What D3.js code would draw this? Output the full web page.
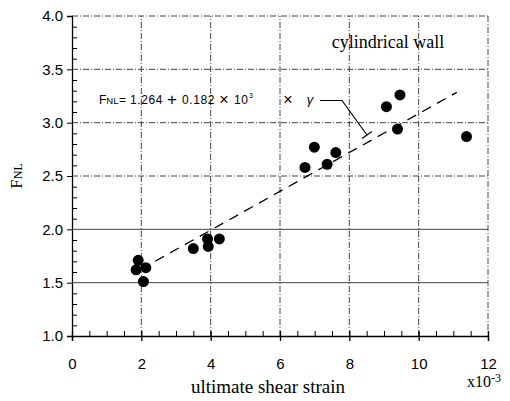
<!DOCTYPE html>
<html><head><meta charset="utf-8">
<script src="https://cdn.jsdelivr.net/npm/d3@7"></script>
<style>body{margin:0;background:#fff}svg{display:block}</style>
</head><body>
<script>
const strainX = [1.91,1.85,2.13,2.06,3.50,3.91,3.93,4.25,6.72,6.99,7.36,7.61,9.07,9.46,9.39,11.38];
const fnlY    = [1.71,1.62,1.64,1.51,1.82,1.91,1.84,1.91,2.58,2.77,2.61,2.72,3.15,3.26,2.94,2.87];
const xTicks = [0,2,4,6,8,10,12];
const yTicks = [1.0,1.5,2.0,2.5,3.0,3.5,4.0];
const fitIntercept = 1.264, fitSlope = 0.182;
const fitRange = [2.4, 11.1];

const W=510,H=401;
const svg=d3.select("body").append("svg").attr("width",W).attr("height",H);
const x=d3.scaleLinear().domain([0,12]).range([72,488]);
const y=d3.scaleLinear().domain([1,4]).range([336,16]);
const sans="Liberation Sans, Arial, sans-serif", serif="Liberation Serif, Times New Roman, serif";
const gridDash="6,2,1,2";

// grid
const g=svg.append("g");
g.selectAll(".vg").data(xTicks.slice(1,-1)).join("line")
 .attr("x1",d=>x(d)).attr("x2",d=>x(d)).attr("y1",y(1)).attr("y2",y(4))
 .attr("stroke","#444").attr("stroke-width",1).attr("stroke-dasharray",gridDash);
g.selectAll(".hg").data(yTicks.slice(1,-1)).join("line")
 .attr("y1",d=>y(d)).attr("y2",d=>y(d)).attr("x1",x(0)).attr("x2",x(12))
 .attr("stroke","#444").attr("stroke-width",1).attr("stroke-dasharray",d=>d<=2?null:gridDash);
// frame top/right
svg.append("line").attr("x1",x(0)).attr("x2",x(12)).attr("y1",y(4)).attr("y2",y(4)).attr("stroke","#444").attr("stroke-dasharray",gridDash);
svg.append("line").attr("x1",x(12)).attr("x2",x(12)).attr("y1",y(4)).attr("y2",y(1)).attr("stroke","#444").attr("stroke-dasharray",gridDash);

// axes
const xa=svg.append("g").attr("transform",`translate(0,${y(1)})`)
 .call(d3.axisBottom(x).tickValues(xTicks).tickSize(5).tickFormat(d=>d));
xa.select(".domain").attr("stroke","#000").attr("stroke-width",1.3);
xa.selectAll(".tick line").attr("y1",-5).attr("y2",5).attr("stroke-width",1.3);
xa.selectAll("text").attr("y",22).attr("font-family",sans).attr("font-size",15).attr("fill","#000");
const xm=svg.append("g").attr("transform",`translate(0,${y(1)})`)
 .call(d3.axisTop(x).tickValues(d3.range(0,12.01,0.5).filter(v=>v%2!==0)).tickSize(5).tickFormat(""));
xm.select(".domain").remove();

const ya=svg.append("g").attr("transform",`translate(${x(0)},0)`)
 .call(d3.axisLeft(y).tickValues(yTicks).tickSize(5).tickFormat(d3.format(".1f")));
ya.select(".domain").attr("stroke","#000").attr("stroke-width",1.3);
ya.selectAll("text").attr("x",-9).attr("font-family",sans).attr("font-size",15).attr("fill","#000");
const ym=svg.append("g").attr("transform",`translate(${x(0)},0)`)
 .call(d3.axisRight(y).tickValues(d3.range(1,4.001,0.1).map(v=>+v.toFixed(1)).filter(v=>Math.abs(v*2-Math.round(v*2))>0.01)).tickSize(5).tickFormat(""));
ym.select(".domain").remove();

// fit line
svg.append("line").attr("x1",x(fitRange[0])).attr("y1",y(fitIntercept+fitSlope*fitRange[0]))
 .attr("x2",x(fitRange[1])).attr("y2",y(fitIntercept+fitSlope*fitRange[1]))
 .attr("stroke","#000").attr("stroke-width",1.3).attr("stroke-dasharray","10,7");

// points
svg.selectAll("circle.p").data(strainX).join("circle")
 .attr("cx",d=>x(d)).attr("cy",(d,i)=>y(fnlY[i])).attr("r",5.5).attr("fill","#000");

// annotation
const ann=svg.append("g").attr("font-family",sans).attr("font-size",12).attr("fill","#000");
const f=ann.append("text").attr("x",99).attr("y",104);
f.append("tspan").text("F");
f.append("tspan").attr("font-size",9.5).text("NL");
ann.append("text").attr("x",122.5).attr("y",104).attr("text-anchor","middle").text("=");
ann.append("text").attr("x",130).attr("y",104).attr("letter-spacing",0.6).text("1.264");
ann.append("text").attr("x",172).attr("y",105).attr("text-anchor","middle").attr("font-size",17).text("+");
ann.append("text").attr("x",182).attr("y",104).attr("letter-spacing",0.6).text("0.182");
ann.append("text").attr("x",224).attr("y",105).attr("text-anchor","middle").attr("font-size",16).text("×");
ann.append("text").attr("x",234).attr("y",104).attr("letter-spacing",0.6).text("10");
ann.append("text").attr("x",249).attr("y",98).attr("font-size",7).text("3");
ann.append("text").attr("x",288).attr("y",105).attr("text-anchor","middle").attr("font-size",16).text("×");
ann.append("text").attr("x",310).attr("y",104).attr("text-anchor","middle").attr("font-style","italic").attr("font-size",13).text("γ");
svg.append("path").attr("d",`M320,100.5 L342,100.5 L367,135`).attr("fill","none").attr("stroke","#000").attr("stroke-width",1.2);
svg.append("path").attr("d",`M362,138.5 L372,131.5`).attr("fill","none").attr("stroke","#000").attr("stroke-width",1.2);

// labels
svg.append("text").attr("x",388).attr("y",48).attr("text-anchor","middle").attr("font-family",serif).attr("font-size",18).text("cylindrical wall");
svg.append("text").attr("x",268).attr("y",393).attr("text-anchor","middle").attr("font-family",serif).attr("font-size",19).text("ultimate shear strain");
const xs=svg.append("text").attr("x",467).attr("y",387).attr("font-family",serif).attr("font-size",16);
xs.append("tspan").text("x10");
xs.append("tspan").attr("font-size",12).attr("dy",-5).text("-3");
const yl=svg.append("text").attr("transform","translate(22,176) rotate(-90)").attr("text-anchor","middle").attr("font-family",serif).attr("font-size",17);
yl.append("tspan").text("F");
yl.append("tspan").attr("font-size",12).text("NL");
</script>
</body></html>
